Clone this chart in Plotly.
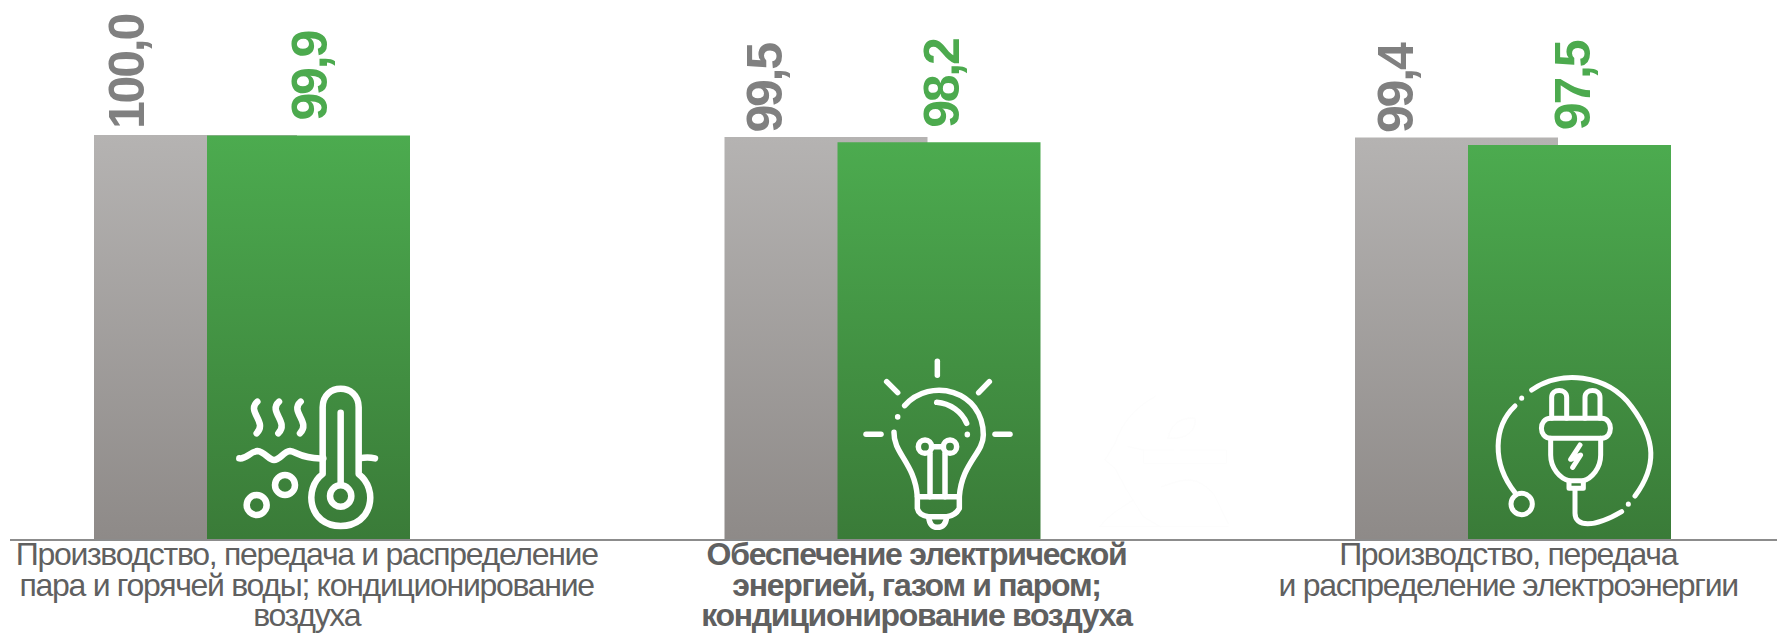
import re
import plotly.graph_objects as go

# ---------- data ----------
group_positions = [0, 1, 2]
prev_values = [100.0, 99.5, 99.4]
curr_values = [99.9, 98.2, 97.5]
prev_text = ["100,0", "99,5", "99,4"]
curr_text = ["99,9", "98,2", "97,5"]
category_labels = [
    "Производство, передача и распределение<br>пара и горячей воды; кондиционирование<br>воздуха",
    "<b>Обеспечение электрической</b><br><b>энергией, газом и паром;</b><br><b>кондиционирование воздуха</b>",
    "Производство, передача<br>и распределение электроэнергии",
]

# ---------- layout constants (pixels) ----------
W, H = 1777, 634
AX_L, BASE = 10, 539
UNIT = 630.5
CENTER0 = 252
PX_PER_VAL = 4.04
BAR_W = 203 / UNIT
OFF_PREV = -158 / UNIT
OFF_CURR = -45 / UNIT
LABEL_SHIFT = [54, 34, -5]
PREV_SHIFT = [-126, -118, -117]
CURR_SHIFT = [58, 59, 60]
GRAY_TXT, GREEN_TXT, CAT_TXT = "#808080", "#4CAA4E", "#606060"
FONT = "Liberation Sans"


def px2paper(x, y):
    return (x - AX_L) / (W - AX_L), (BASE - y) / BASE


def conv(path, ox, oy, k=1 / 3):
    toks = re.findall(r"[MLCQZ]|-?[\d.]+", path)
    out, pair = [], []
    for t in toks:
        if t in "MLCQZ":
            out.append(t)
        else:
            pair.append(float(t))
            if len(pair) == 2:
                px, py = px2paper(ox + pair[0] * k, oy + pair[1] * k)
                out.append(f"{px:.5f},{py:.5f}")
                pair = []
    return " ".join(out)


def circ(cx, cy, r):
    c = 0.5523 * r
    return (f"M {cx-r} {cy} C {cx-r} {cy-c} {cx-c} {cy-r} {cx} {cy-r} "
            f"C {cx+c} {cy-r} {cx+r} {cy-c} {cx+r} {cy} "
            f"C {cx+r} {cy+c} {cx+c} {cy+r} {cx} {cy+r} "
            f"C {cx-c} {cy+r} {cx-r} {cy+c} {cx-r} {cy} Z")


def squiggle(x):
    return f"M {x+2} 95 C {x-32} 125 {x+34} 155 {x} 190"


thermo = [
    squiggle(170), squiggle(235), squiggle(300),
    "M 118 265 C 140 268 150 245 172 243 C 195 245 205 270 222 270 C 240 270 250 245 270 243 C 290 245 305 268 370 265",
    "M 478 265 C 495 262 510 262 525 265",
    "M 368 112 C 368 38 476 38 476 112 L 476 312 C 535 355 520 468 422 468 C 325 468 310 355 368 312 Z",
    "M 422 128 L 422 340",
    circ(422, 378, 32), circ(255, 345, 30), circ(170, 405, 30),
]
bulb = [
    "M 322 64 L 322 106", "M 170 125 L 203 158", "M 478 125 L 446 158",
    "M 108 283 L 153 283", "M 495 283 L 540 283",
    "M 224 197 C 300 110 460 150 460 285 C 460 340 395 370 388 470",
    "M 192 277 C 190 340 255 370 262 470",
    "M 203 230 L 203 231", "M 412 283 L 412 284",
    "M 320 187 C 360 190 395 215 410 250",
    circ(285, 320, 20), circ(360, 320, 20), "M 305 320 L 340 320",
    "M 300 340 L 300 470", "M 345 340 L 345 470",
    "M 262 470 L 388 470 L 388 505 C 380 520 365 528 350 530 L 296 530 C 280 528 265 520 262 505 Z",
    "M 296 530 C 298 552 308 562 322 562 C 338 562 348 552 350 530",
]
plug = [
    "M 215 60 C 300 0 440 10 515 110 C 590 210 590 290 525 378",
    "M 505 402 L 505 403",
    "M 185 84 L 185 85",
    "M 165 108 C 100 170 95 280 165 368",
    circ(185, 402, 32),
    "M 345 360 L 345 430 C 345 470 400 475 485 425",
    "M 275 145 L 275 82 C 275 55 320 55 320 82 L 320 145",
    "M 375 145 L 375 82 C 375 55 420 55 420 82 L 420 145",
    "M 272 145 L 425 145 C 460 145 460 205 425 205 L 272 205 C 235 205 235 145 272 145 Z",
    "M 272 205 L 272 255 C 272 295 300 325 327 332 L 370 332 C 395 325 422 295 422 255 L 422 205",
    "M 327 332 L 327 355 L 370 355 L 370 332",
    "M 360 225 L 332 268 L 362 255 L 338 292",
]
ghost = [
    "M 225 20 C 170 50 130 90 105 160 L 75 210 L 105 235 L 140 300 L 190 380 L 240 410",
    "M 265 145 C 270 100 310 80 345 85 C 350 120 320 150 265 145 Z",
    "M 145 170 L 190 180 L 190 220 L 440 220 L 440 180 L 300 180",
    "M 280 180 L 190 180",
    "M 60 410 L 445 410",
    "M 60 410 C 90 370 130 350 160 330",
    "M 245 290 C 310 270 340 250 400 310 L 445 400",
]

shapes = []
for paths, ox, oy, color, lw in [
    (thermo, 200, 370, "white", 6.5),
    (bulb, 830, 340, "white", 5.5),
    (plug, 1460, 370, "white", 5),
    (ghost, 1080, 390, "#FDFDFD", 1),
]:
    for p in paths:
        shapes.append(dict(type="path", xref="paper", yref="paper", path=conv(p, ox, oy),
                           line=dict(color=color, width=lw), layer="above"))

fig = go.Figure()
fig.add_bar(x=group_positions, y=prev_values, width=BAR_W, offset=OFF_PREV,
            marker=dict(color="#A3A09E", line=dict(width=0)), hoverinfo="skip")
fig.add_bar(x=group_positions, y=curr_values, width=BAR_W, offset=OFF_CURR,
            marker=dict(color="#449345", line=dict(width=0)), hoverinfo="skip")

ann = []
for i, g in enumerate(group_positions):
    ann.append(dict(x=g, y=prev_values[i], xref="x", yref="y", text=f"<b>{prev_text[i]}</b>", showarrow=False,
                    textangle=-90, xanchor="center", yanchor="bottom", xshift=PREV_SHIFT[i], yshift=-2,
                    font=dict(family=FONT, size=50, color=GRAY_TXT)))
    ann.append(dict(x=g, y=curr_values[i], xref="x", yref="y", text=f"<b>{curr_text[i]}</b>", showarrow=False,
                    textangle=-90, xanchor="center", yanchor="bottom", xshift=CURR_SHIFT[i], yshift=8,
                    font=dict(family=FONT, size=50, color=GREEN_TXT)))
    ann.append(dict(x=g, xref="x", y=0, yref="paper", text=category_labels[i], showarrow=False,
                    xanchor="center", yanchor="top", align="center", xshift=LABEL_SHIFT[i], yshift=5,
                    font=dict(family=FONT, size=32, color=CAT_TXT)))

fig.update_layout(
    width=W, height=H, autosize=False, barmode="overlay", showlegend=False,
    paper_bgcolor="white", plot_bgcolor="white",
    margin=dict(l=AX_L, r=0, t=0, b=H - BASE, pad=0),
    shapes=shapes, annotations=ann,
)
fig.update_xaxes(range=[(AX_L - CENTER0) / UNIT, (W - CENTER0) / UNIT], showgrid=False, zeroline=False,
                 showline=True, linecolor="#8C8C8C", linewidth=2, tickvals=group_positions, ticks="",
                 showticklabels=False, fixedrange=True)
fig.update_yaxes(range=[0, BASE / PX_PER_VAL], visible=False, fixedrange=True)

post = """
document.body.style.margin='0';
document.documentElement.style.overflow='hidden';
var NS='http://www.w3.org/2000/svg';
var svg=document.querySelector('.main-svg');
var defs=document.createElementNS(NS,'defs');
[['g0','#B5B3B2','#8E8A88'],['g1','#4CAB4F','#3A7B38']].forEach(function(g){
  var lg=document.createElementNS(NS,'linearGradient');
  lg.setAttribute('id',g[0]);lg.setAttribute('x1','0');lg.setAttribute('y1','0');lg.setAttribute('x2','0');lg.setAttribute('y2','1');
  [[0,g[1]],[1,g[2]]].forEach(function(s){var st=document.createElementNS(NS,'stop');st.setAttribute('offset',s[0]);st.setAttribute('stop-color',s[1]);lg.appendChild(st);});
  defs.appendChild(lg);
});
svg.insertBefore(defs,svg.firstChild);
document.querySelectorAll('.trace.bars').forEach(function(t,i){
  t.querySelectorAll('.point path').forEach(function(p){p.style.fill='url(#g'+i+')';});
});
var css=document.createElement('style');
css.textContent='.shapelayer path{stroke-linecap:round;stroke-linejoin:round}';
document.head.appendChild(css);
document.querySelectorAll('.annotation-text').forEach(function(t){
  var fs=parseFloat(t.style.fontSize);
  t.style.letterSpacing = fs<40 ? '-1.3px' : '-2.2px';
  t.querySelectorAll('tspan.line').forEach(function(l,j){
    l.setAttribute('dy',(j*30.5)+'px');
    l.removeAttribute('y');
    if(j>0){l.setAttribute('dy','30.5px');}
    else{l.setAttribute('dy','0');}
  });
});
"""
fig.write_html("out.html", post_script=post, config={"displayModeBar": False})
